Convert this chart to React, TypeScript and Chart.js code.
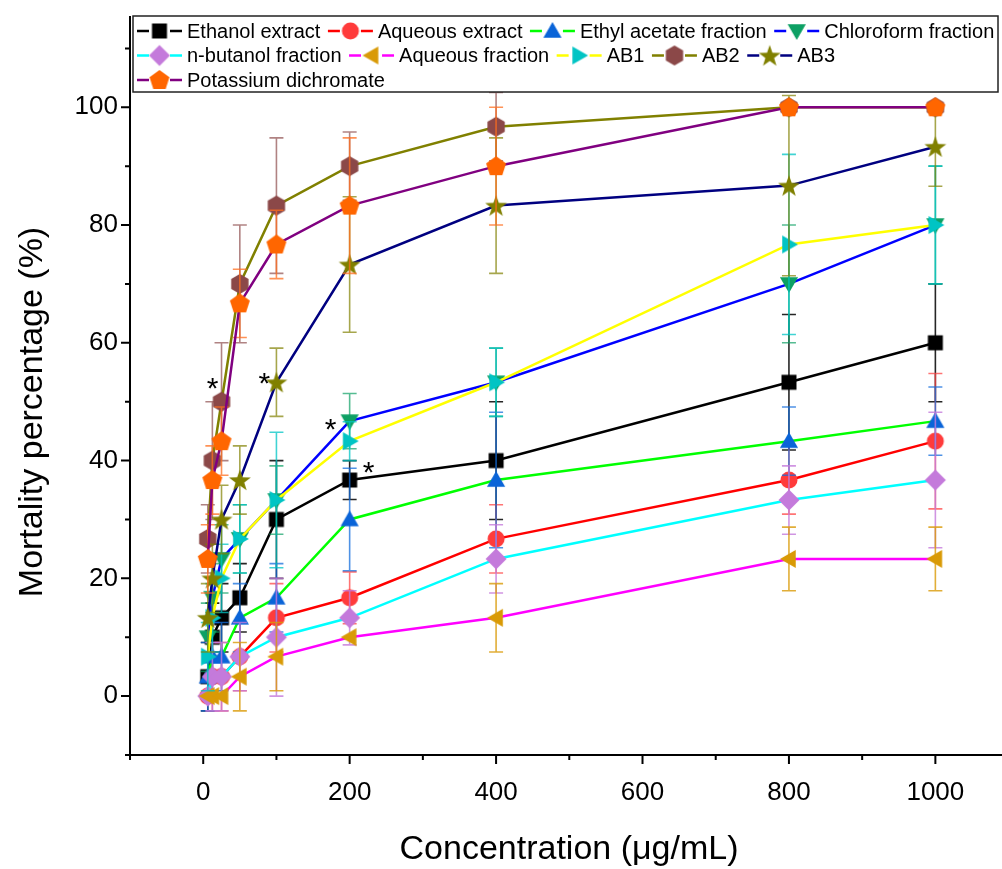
import React, { useEffect, useRef } from 'react';
import { Chart, registerables } from 'chart.js';

Chart.register(...registerables);

// ---------- data ----------
const concentrations = [6.25, 12.5, 25, 50, 100, 200, 400, 800, 1000];

const seriesNames = [
  'Ethanol extract',
  'Aqueous extract',
  'Ethyl acetate fraction',
  'Chloroform fraction',
  'n-butanol fraction',
  'Aqueous fraction',
  'AB1',
  'AB2',
  'AB3',
  'Potassium dichromate',
];

const ethanolExtract = [3.3, 10, 13.3, 16.7, 30, 36.7, 40, 53.3, 60];
const ethanolExtractErr = [5.8, 5.8, 5.8, 5.8, 10, 3.3, 10, 11.5, 10];

const aqueousExtract = [0, 3.3, 3.3, 6.7, 13.3, 16.7, 26.7, 36.7, 43.3];
const aqueousExtractErr = [0, 5.8, 5.8, 5.8, 5.8, 4.4, 5.8, 5.8, 11.5];

const ethylAcetate = [3.3, 6.7, 6.7, 13.3, 16.7, 30, 36.7, 43.3, 46.7];
const ethylAcetateErr = [5.8, 5.8, 5.8, 5.8, 5.8, 8.7, 11.5, 5.8, 5.8];

const chloroform = [10, 16.7, 23.3, 26.7, 33.3, 46.7, 53.3, 70, 80];
const chloroformErr = [5.8, 5.8, 5.8, 5.8, 5.8, 4.7, 5.8, 10, 10];

const nButanol = [0, 3.3, 3.3, 6.7, 10, 13.3, 23.3, 33.3, 36.7];
const nButanolErr = [0, 5.8, 5.8, 5.8, 10, 4.6, 5.8, 5.8, 11.5];

const aqueousFraction = [0, 0, 0, 3.3, 6.7, 10, 13.3, 23.3, 23.3];
const aqueousFractionErr = [0, 0, 0, 5.8, 5.8, 0, 5.8, 5.4, 5.4];

const ab1 = [6.7, 13.3, 20, 26.7, 33.3, 43.3, 53.3, 76.7, 80];
const ab1Err = [5.8, 5.8, 5.8, 5.8, 11.5, 3.3, 5.8, 15.3, 10];

const ab2 = [26.7, 40, 50, 70, 83.3, 90, 96.7, 100, 100];
const ab2Err = [5.8, 10, 10, 10, 11.5, 5.8, 5.8, 0, 0];

const ab3 = [13.3, 20, 30, 36.7, 53.3, 73.3, 83.3, 86.7, 93.3];
const ab3Err = [5.8, 5.8, 5.8, 5.8, 5.8, 11.5, 11.5, 15.3, 6.7];

const potassiumDichromate = [23.3, 36.7, 43.3, 66.7, 76.7, 83.3, 90, 100, 100];
const potassiumDichromateErr = [5.8, 5.8, 5.8, 5.8, 5.8, 11.5, 10, 0, 0];

const seriesValues = [
  ethanolExtract, aqueousExtract, ethylAcetate, chloroform, nButanol,
  aqueousFraction, ab1, ab2, ab3, potassiumDichromate,
];
const seriesErrors = [
  ethanolExtractErr, aqueousExtractErr, ethylAcetateErr, chloroformErr, nButanolErr,
  aqueousFractionErr, ab1Err, ab2Err, ab3Err, potassiumDichromateErr,
];

const xTickLabels = [0, 200, 400, 600, 800, 1000];
const yTickLabels = [0, 20, 40, 60, 80, 100];

// significance markers: [series index, point index, dx, dy]
const asterisks: [number, number, number, number][] = [
  [7, 2, -9, -12],
  [8, 4, -12, 2],
  [3, 5, -19, 10],
  [0, 5, 19, -6],
];

// ---------- styles ----------
const lineColors = ['#000000', '#FF0000', '#00FF00', '#0000FF', '#00FFFF', '#FF00FF', '#FFFF00', '#808000', '#000080', '#800080'];
const markerColors = ['#000000', '#FF3B3B', '#0A64D8', '#0DA064', '#C47ADB', '#D99A06', '#00C4C4', '#8B4848', '#808000', '#FF6600'];
const errorColors = ['rgba(0,0,0,0.85)', 'rgba(255,70,70,0.75)', 'rgba(20,110,220,0.75)', 'rgba(13,160,100,0.7)', 'rgba(196,122,219,0.8)', 'rgba(217,154,6,0.8)', 'rgba(0,196,196,0.75)', 'rgba(150,90,90,0.75)', 'rgba(128,128,0,0.7)', 'rgba(255,110,30,0.75)'];
const markerShapes = ['square', 'circle', 'triUp', 'triDown', 'diamond', 'triLeft', 'triRight', 'hexagon', 'star', 'pentagon'];

const FONT = "'Liberation Sans', Arial, Helvetica, sans-serif";

function polygonPath(ctx: CanvasRenderingContext2D, cx: number, cy: number, n: number, r: number, startDeg: number) {
  for (let k = 0; k < n; k++) {
    const a = (startDeg * Math.PI) / 180 + (k * 2 * Math.PI) / n;
    const px = cx + r * Math.cos(a);
    const py = cy + r * Math.sin(a);
    if (k === 0) ctx.moveTo(px, py); else ctx.lineTo(px, py);
  }
  ctx.closePath();
}

function makeMarker(shape: string, color: string): HTMLCanvasElement {
  const S = 28;
  const c = document.createElement('canvas');
  c.width = S;
  c.height = S;
  const ctx = c.getContext('2d')!;
  const cx = S / 2, cy = S / 2;
  ctx.fillStyle = color;
  ctx.beginPath();
  switch (shape) {
    case 'square': ctx.rect(cx - 7.5, cy - 7.5, 15, 15); break;
    case 'circle': ctx.arc(cx, cy, 8.5, 0, Math.PI * 2); break;
    case 'triUp': polygonPath(ctx, cx, cy + 1.5, 3, 10.5, -90); break;
    case 'triDown': polygonPath(ctx, cx, cy - 1.5, 3, 10.5, 90); break;
    case 'triLeft': polygonPath(ctx, cx + 1.5, cy, 3, 10.5, 180); break;
    case 'triRight': polygonPath(ctx, cx - 1.5, cy, 3, 10.5, 0); break;
    case 'diamond': polygonPath(ctx, cx, cy, 4, 10.5, -90); break;
    case 'hexagon': polygonPath(ctx, cx, cy, 6, 10, -90); break;
    case 'pentagon': polygonPath(ctx, cx, cy + 0.5, 5, 10.5, -90); break;
    case 'star': {
      for (let k = 0; k < 10; k++) {
        const r = k % 2 === 0 ? 11.5 : 4.6;
        const a = -Math.PI / 2 + (k * Math.PI) / 5;
        const px = cx + r * Math.cos(a);
        const py = cy + 1 + r * Math.sin(a);
        if (k === 0) ctx.moveTo(px, py); else ctx.lineTo(px, py);
      }
      ctx.closePath();
      break;
    }
  }
  ctx.fill();
  return c;
}

// ---------- plugins ----------
const errorBarPlugin = {
  id: 'errorBars',
  beforeDatasetDraw(chart: any, args: any) {
    const i = args.index;
    const errs = seriesErrors[i];
    const vals = seriesValues[i];
    const xs = chart.scales.x, ys = chart.scales.y;
    const ctx = chart.ctx;
    ctx.save();
    ctx.strokeStyle = errorColors[i];
    ctx.lineWidth = 1.6;
    for (let j = 0; j < vals.length; j++) {
      const e = errs[j];
      if (!e) continue;
      const px = xs.getPixelForValue(concentrations[j]);
      const yT = ys.getPixelForValue(vals[j] + e);
      const yB = ys.getPixelForValue(vals[j] - e);
      ctx.beginPath();
      ctx.moveTo(px, yT); ctx.lineTo(px, yB);
      ctx.moveTo(px - 7, yT); ctx.lineTo(px + 7, yT);
      ctx.moveTo(px - 7, yB); ctx.lineTo(px + 7, yB);
      ctx.stroke();
    }
    ctx.restore();
  },
};

const axesPlugin = {
  id: 'originAxes',
  afterDraw(chart: any) {
    const ctx = chart.ctx;
    const xs = chart.scales.x, ys = chart.scales.y;
    const { left, right, top, bottom } = chart.chartArea;
    ctx.save();
    ctx.strokeStyle = '#000';
    ctx.lineWidth = 2;
    ctx.beginPath();
    ctx.moveTo(left, top); ctx.lineTo(left, bottom + 1);
    ctx.moveTo(left - 1, bottom); ctx.lineTo(right, bottom);
    ctx.stroke();
    ctx.beginPath();
    for (let v = -100; v <= 1100; v += 100) {
      const px = xs.getPixelForValue(v);
      if (px > right) continue;
      const len = v % 200 === 0 ? 9 : 5;
      ctx.moveTo(px, bottom); ctx.lineTo(px, bottom + len);
    }
    for (let v = -10; v <= 110; v += 10) {
      const py = ys.getPixelForValue(v);
      const len = v % 20 === 0 ? 9 : 5;
      ctx.moveTo(left, py); ctx.lineTo(left - len, py);
    }
    ctx.stroke();

    // axis titles
    ctx.fillStyle = '#000';
    ctx.font = `34px ${FONT}`;
    ctx.textAlign = 'center';
    ctx.textBaseline = 'middle';
    ctx.fillText('Concentration (\u03bcg/mL)', (left + right) / 2 + 3, 850);
    ctx.save();
    ctx.translate(33, 412);
    ctx.rotate(-Math.PI / 2);
    ctx.fillText('Mortality percentage (%)', 0, 0);
    ctx.restore();
    ctx.restore();
  },
};

const asteriskPlugin = {
  id: 'asterisks',
  afterDatasetsDraw(chart: any) {
    const ctx = chart.ctx;
    const xs = chart.scales.x, ys = chart.scales.y;
    ctx.save();
    ctx.fillStyle = '#000';
    ctx.font = `30px ${FONT}`;
    ctx.textAlign = 'center';
    ctx.textBaseline = 'middle';
    for (const [s, j, dx, dy] of asterisks) {
      const px = xs.getPixelForValue(concentrations[j]);
      const py = ys.getPixelForValue(seriesValues[s][j]);
      ctx.fillText('*', px + dx, py + dy);
    }
    ctx.restore();
  },
};

const legendRows = [[0, 1, 2, 3], [4, 5, 6, 7, 8], [9]];

function makeLegendPlugin(markers: HTMLCanvasElement[]) {
  return {
    id: 'originLegend',
    afterDraw(chart: any) {
      const ctx = chart.ctx;
      const { left, top } = chart.chartArea;
      const boxL = left + 3, boxT = top, boxR = 998, boxB = top + 76;
      ctx.save();
      ctx.fillStyle = '#fff';
      ctx.fillRect(boxL, boxT, boxR - boxL, boxB - boxT);
      ctx.strokeStyle = '#222';
      ctx.lineWidth = 1.5;
      ctx.strokeRect(boxL, boxT, boxR - boxL, boxB - boxT);
      ctx.font = `20px ${FONT}`;
      ctx.textBaseline = 'middle';
      ctx.textAlign = 'left';
      legendRows.forEach((row, r) => {
        const y = boxT + 15 + r * 24.5;
        let x = boxL + 4;
        row.forEach((i) => {
          ctx.strokeStyle = lineColors[i];
          ctx.lineWidth = 2.5;
          ctx.beginPath();
          ctx.moveTo(x, y); ctx.lineTo(x + 12, y);
          ctx.moveTo(x + 33, y); ctx.lineTo(x + 45, y);
          ctx.stroke();
          const m = markers[i];
          ctx.drawImage(m, x + 22.5 - m.width / 2, y - m.height / 2);
          x += 50;
          ctx.fillStyle = '#000';
          ctx.fillText(seriesNames[i], x, y + 1);
          x += ctx.measureText(seriesNames[i]).width + 7.5;
        });
      });
      ctx.restore();
    },
  };
}

function zeroPadding(scale: any) {
  scale.paddingTop = 0;
  scale.paddingBottom = 0;
  scale.paddingLeft = 0;
  scale.paddingRight = 0;
}

export default function App() {
  const canvasRef = useRef<HTMLCanvasElement | null>(null);

  useEffect(() => {
    const canvas = canvasRef.current;
    if (!canvas) return;
    const markers = markerShapes.map((s, i) => makeMarker(s, markerColors[i]));

    const datasets = seriesNames.map((name, i) => ({
      label: name,
      data: seriesValues[i].map((v, j) => ({ x: concentrations[j], y: v })),
      borderColor: lineColors[i],
      backgroundColor: markerColors[i],
      borderWidth: 2.5,
      pointStyle: markers[i] as any,
      pointRadius: 10,
      pointHoverRadius: 10,
      tension: 0,
      fill: false,
      order: 10 - i,
      clip: false as any,
    }));

    const chart = new Chart(canvas, {
      type: 'line',
      data: { datasets },
      options: {
        responsive: false,
        animation: false,
        devicePixelRatio: 1,
        layout: { autoPadding: false, padding: { left: 0, top: 16, right: 0, bottom: 0 } },
        plugins: { legend: { display: false }, tooltip: { enabled: false } },
        scales: {
          x: {
            type: 'linear',
            min: -100,
            max: 1091,
            grid: { display: false, drawTicks: false },
            border: { display: false },
            afterBuildTicks: (scale: any) => { scale.ticks = xTickLabels.map((v) => ({ value: v })); },
            afterFit: (scale: any) => { scale.height = 114; zeroPadding(scale); },
            ticks: {
              color: '#000',
              font: { family: FONT, size: 26 },
              padding: 22,
              maxRotation: 0,
              autoSkip: false,
              callback: (v: any) => String(v),
            },
          },
          y: {
            type: 'linear',
            min: -10,
            max: 115.5,
            grid: { display: false, drawTicks: false },
            border: { display: false },
            afterBuildTicks: (scale: any) => { scale.ticks = yTickLabels.map((v) => ({ value: v })); },
            afterFit: (scale: any) => { scale.width = 130; zeroPadding(scale); },
            ticks: {
              color: '#000',
              font: { family: FONT, size: 26 },
              padding: 12,
              autoSkip: false,
              callback: (v: any) => String(v),
            },
          },
        },
      },
      plugins: [errorBarPlugin, asteriskPlugin, axesPlugin, makeLegendPlugin(markers)],
    });

    return () => chart.destroy();
  }, []);

  return (
    <canvas
      ref={canvasRef}
      width={1002}
      height={869}
      style={{ position: 'fixed', left: 0, top: 0, width: 1002, height: 869, background: '#fff' }}
    />
  );
}
